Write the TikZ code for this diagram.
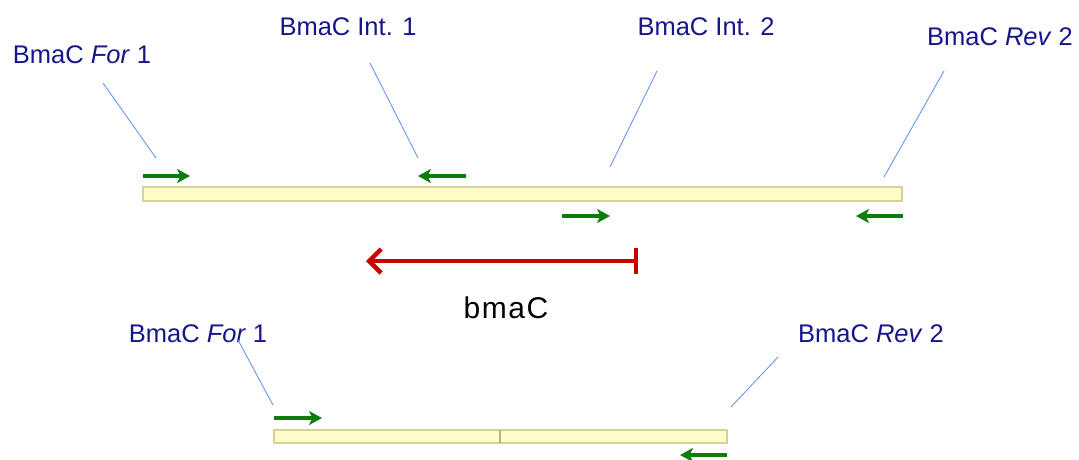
\documentclass[tikz,border=0pt]{standalone}
\usepackage{fontspec}
\setmainfont{Liberation Sans}
\newfontfamily\spacedfont[LetterSpace=5]{Liberation Sans}
\usetikzlibrary{arrows.meta}
\definecolor{labelblue}{HTML}{16168A}
\definecolor{leaderblue}{HTML}{5A8CF0}
\definecolor{primergreen}{HTML}{0A7D0A}
\definecolor{genered}{HTML}{CC0000}
\definecolor{barfill}{HTML}{FFFCC8}
\definecolor{barline}{HTML}{D6D29A}
\tikzset{
  lbl/.style={text=labelblue, font=\fontsize{25.5}{28}\selectfont, inner sep=0pt},
  leader/.style={draw=leaderblue, line width=0.8pt},
  primer/.style={draw=primergreen, line width=3.6pt, -{Stealth[length=13pt,width=14pt,inset=3.5pt]}},
  seqbar/.style={draw=barline, fill=barfill, line width=1.2pt}
}
\begin{document}
\begin{tikzpicture}[x=1pt,y=-1pt]
\useasboundingbox (0,0) rectangle (1079,459);

% upper construct
\draw[seqbar] (143,187) rectangle (902,201);

\node[lbl] (f1) at (82,55) {BmaC \textit{For} 1};
\node[lbl] (i1) at (348,27) {BmaC Int. 1};
\node[lbl] (i2) at (706,27) {BmaC Int. 2};
\node[lbl] (r2) at (1000,37) {BmaC \textit{Rev} 2};

\coordinate (f1a) at (103,83);  \coordinate (f1b) at (156,158);
\coordinate (i1a) at (370,63);  \coordinate (i1b) at (418,158);
\coordinate (i2a) at (657,71);  \coordinate (i2b) at (610,167);
\coordinate (r2a) at (944,71);  \coordinate (r2b) at (884,177);
\draw[leader] (f1a) -- (f1b);
\draw[leader] (i1a) -- (i1b);
\draw[leader] (i2a) -- (i2b);
\draw[leader] (r2a) -- (r2b);

\coordinate (pf1s) at (143,176); \coordinate (pf1e) at (190,176);
\coordinate (pi1s) at (466,176); \coordinate (pi1e) at (418,176);
\coordinate (pi2s) at (562,216); \coordinate (pi2e) at (610,216);
\coordinate (pr2s) at (903,216); \coordinate (pr2e) at (856,216);
\draw[primer] (pf1s) -- (pf1e);
\draw[primer] (pi1s) -- (pi1e);
\draw[primer] (pi2s) -- (pi2e);
\draw[primer] (pr2s) -- (pr2e);

% deleted gene
\coordinate (gs) at (638,261); \coordinate (ge) at (366,261);
\draw[draw=genered, line width=4.5pt, {Bar[width=26pt,line width=4pt]}-{Straight Barb[length=12pt,width=24pt,line width=4.5pt]}] (gs) -- (ge);
\node[inner sep=0pt, font=\fontsize{30}{33}\selectfont\spacedfont] (gene) at (506,308) {bmaC};

% lower construct
\draw[seqbar] (274,430) rectangle (727,443);
\draw[draw=barline!60!gray, line width=1.2pt] (500,430) -- (500,443);

\node[lbl] (bf1) at (198,334) {BmaC \textit{For} 1};
\node[lbl] (br2) at (871,334) {BmaC \textit{Rev} 2};
\coordinate (bf1a) at (238,340); \coordinate (bf1b) at (273,405);
\coordinate (br2a) at (778,357); \coordinate (br2b) at (731,407);
\draw[leader] (bf1a) -- (bf1b);
\draw[leader] (br2a) -- (br2b);

\coordinate (bpfs) at (274,418); \coordinate (bpfe) at (322,418);
\coordinate (bprs) at (727,455); \coordinate (bpre) at (680,455);
\draw[primer] (bpfs) -- (bpfe);
\draw[primer] (bprs) -- (bpre);
\end{tikzpicture}
\end{document}
